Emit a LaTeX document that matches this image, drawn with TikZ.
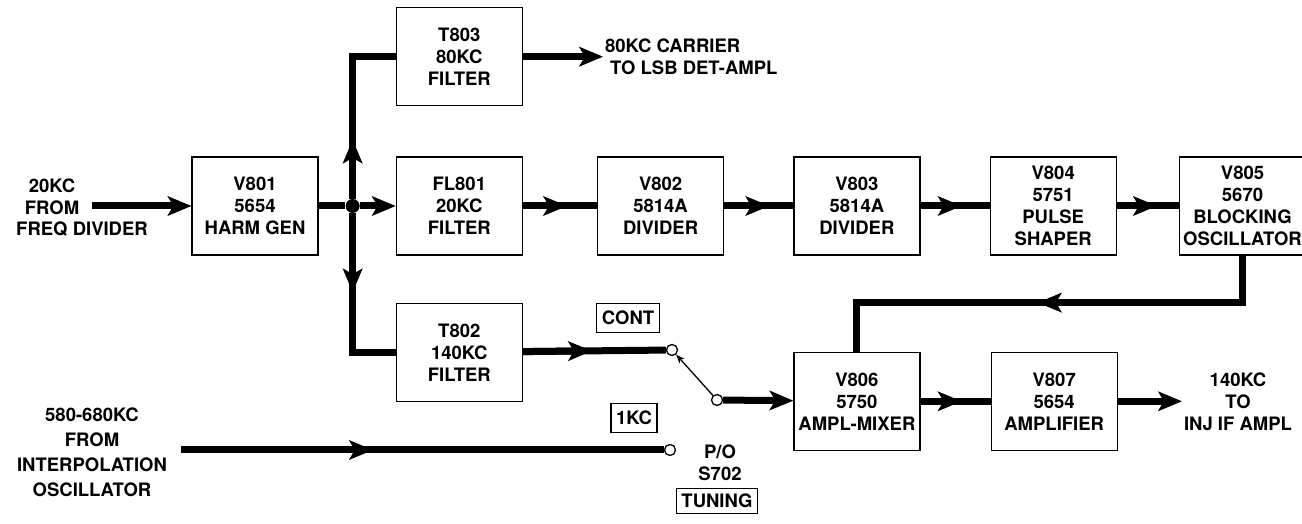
\documentclass[tikz,border=0pt]{standalone}
\usepackage{fontspec}
\setmainfont{TeX Gyre Heros}
\usetikzlibrary{arrows.meta,positioning}

\begin{document}
\begin{tikzpicture}[
    x=1pt, y=1pt,
    node distance=70pt,
    every node/.style={
        font=\fontsize{18.5}{22}\selectfont\bfseries
    },
    box/.style={
        draw,
        rectangle,
        line width=1.3pt,
        align=center,
        inner sep=1pt,
        minimum width=126pt,
        minimum height=98pt
    },
    tag/.style={
        draw,
        line width=1.2pt,
        inner xsep=5pt,
        minimum height=29pt
    },
    lbl/.style={align=center, inner sep=2pt},
    bus/.style={line width=7pt},
    arrow/.style={bus, -{Stealth[length=24pt, width=20pt, inset=6pt, line width=1pt]}},
    midarrow/.style={bus, postaction={draw, arrow, shorten >=#1}},
    midarrow/.default=28pt,
    contact/.style={circle, draw, fill=white, line width=1.3pt,
        minimum size=11pt, inner sep=0pt},
    jdot/.style={circle, fill, minimum size=14pt, inner sep=0pt}
]

\useasboundingbox (0,0) rectangle (1302,524);

%-----------------------------------------------
% MAIN CHAIN
%-----------------------------------------------
\node[box] (harm) at (255,318) {V801\\5654\\HARM GEN};

\node[box, right=77pt of harm] (filt20) {FL801\\20KC\\FILTER};

\node[box, above=50pt of filt20] (filt80) {T803\\80KC\\FILTER};

\node[box, below=47pt of filt20] (filt140) {T802\\140KC\\FILTER};

\node[box, right=74pt of filt20] (div1) {V802\\5814A\\DIVIDER};

\node[box, right=69pt of div1] (div2) {V803\\5814A\\DIVIDER};

\node[box, right=69pt of div2] (shaper) {V804\\5751\\PULSE\\SHAPER};

\node[box, right=62pt of shaper] (blocking) {V805\\5670\\BLOCKING\\OSCILLATOR};

%-----------------------------------------------
% LOWER CHAIN
%-----------------------------------------------
\node[box, below=96pt of div2] (mixer) {V806\\5750\\AMPL-MIXER};

\node[box, right=70pt of mixer] (amp) {V807\\5654\\AMPLIFIER};

%-----------------------------------------------
% INPUT / OUTPUT LABELS
%-----------------------------------------------
\node[lbl] (infrom) at (52,327) {20KC\\FROM};
\node[lbl] (indiv) at (82,295) {FREQ DIVIDER};
\coordinate (instart) at (92,318);

\node[lbl, align=left, right=80pt of filt80]
    (carrier) {80KC CARRIER\\\hspace*{5pt}TO LSB DET-AMPL};

\node[lbl, right=64pt of amp] (inj) {140KC\\TO\\INJ IF AMPL};

\node[lbl, font=\fontsize{18.5}{25}\selectfont\bfseries]
    (interp) at (92,72) {580-680KC\\FROM\\INTERPOLATION\\OSCILLATOR};

%-----------------------------------------------
% SWITCH S702
%-----------------------------------------------
\node[contact] (contpin) at (672,174) {};
\node[contact] (pivot) at (717,124) {};
\node[contact] (tunepin) at (670,74) {};

\node[tag] (cont) at (628,206) {CONT};
\node[tag] (ikc) at (634,106) {1KC};
\node[tag, minimum height=25pt] (tuning) at (717,23) {TUNING};
\node[lbl] (s702) at (720,61) {P/O\\S702};

%-----------------------------------------------
% ARROWS
%-----------------------------------------------
\node[jdot] (junction) at ([xshift=34pt]harm.east) {};
\coordinate (upturn) at (junction |- filt80);
\coordinate (downturn) at (junction |- filt140);
\coordinate (fbtop) at ([yshift=-47pt]blocking.south);
\coordinate (fbleft) at (mixer.north |- fbtop);
\coordinate (interpend) at ([xshift=12pt]interp.east |- tunepin);

\draw[arrow] (instart) -- (harm);
\draw[bus] (harm) -- (junction);
\draw[arrow] (junction) -- (filt20);
\draw[bus] (junction) |- (filt80);
\draw[arrow, shorten >=83pt] (junction) -- (upturn);
\draw[bus] (junction) |- (filt140);
\draw[arrow, shorten >=60pt] (junction) -- (downturn);
\draw[arrow] (filt80) -- (carrier);
\draw[midarrow=30pt] (filt20) -- (div1);
\draw[midarrow=24pt] (div1) -- (div2);
\draw[midarrow] (div2) -- (shaper);
\draw[midarrow=22pt] (shaper) -- (blocking);
\draw[bus] (blocking.south) -- (fbtop) -| (mixer.north);
\draw[arrow, shorten >=181pt] (fbtop) -- (fbleft);
\draw[midarrow=29pt] (mixer) -- (amp);
\draw[arrow] (amp) -- (inj);
\draw[midarrow=74pt] (filt140) -- (contpin);
\draw[midarrow=291pt] (interpend) -- (tunepin);
\draw[arrow] (pivot) -- (mixer);
\draw[line width=1.3pt, -{Stealth[length=9pt, width=7pt]}] (pivot) -- (contpin);

\end{tikzpicture}
\end{document}
